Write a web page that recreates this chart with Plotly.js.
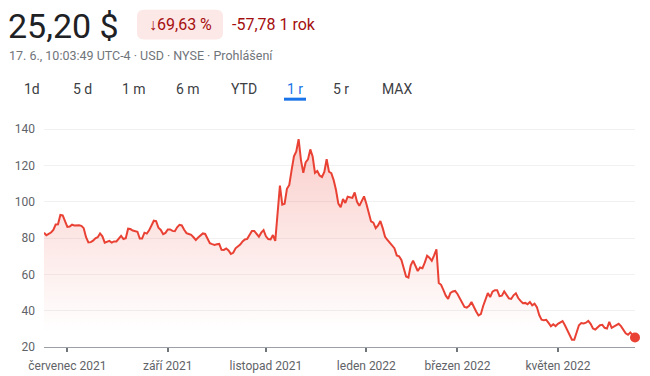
<!DOCTYPE html>
<html><head><meta charset="utf-8">
<script src="https://cdn.plot.ly/plotly-3.0.1.min.js"></script>
<style>html,body{margin:0;padding:0;background:#fff}#chart{width:650px;height:376px}</style>
</head><body><div id="chart"></div>
<script>
// Closing prices (USD), one per trading day, 17 Jun 2021 .. 17 Jun 2022
const prices = [
83,81.6,82.4,83.1,84.5,87.5,87.6,92.8,92.5,89,
86.2,86.4,87.4,87,87.2,87.1,86.8,85.5,80.5,77.6,
77.8,78.6,79.9,80.5,82.6,81,77.5,78,78.5,77.5,
78.2,78.2,80,81.3,79.5,80,85.2,85,84.2,83.8,
83.5,79.8,79.8,83,82.5,84.3,86.8,89.6,89.4,85.7,
84.5,82.2,82.9,84.8,84.8,84,83.8,86,87.3,87,
84.6,82.8,82.3,81.8,80.5,79,80.3,81.7,82.6,82.3,
79.8,77.2,76.7,76.3,76.6,76.8,73.6,73.5,74.3,73.2,
71.3,71.9,74.4,75.3,76.5,78.2,79.3,79.6,81.5,84,
84,82.2,80.8,83,84.4,81,79.5,79.3,81.7,78.5,
92,109,98.5,99,107.2,109.3,117.5,125.1,127.8,134.6,
123,116,121.7,123.4,128.9,125,116,117,114.5,113.7,
116.5,123.5,116.6,115.8,112,106.5,99,97,101.5,99.4,
102.8,102.5,102.2,105.2,100,97.8,100.5,103,99,94.6,
89.2,88.5,85.5,87,89.4,85.5,80.7,79.1,77.5,76.5,
74.5,70.5,70,68,63.8,58.9,58.3,65,67.6,65,
61.9,63.8,63.4,66.5,70.3,69.2,67.5,70.5,73.8,55.3,
54.3,51.3,48.3,46.5,49.8,50.6,50.9,49.2,46.7,43.9,
42.1,41.7,42.7,44.8,41.7,39.6,37.4,38.1,42.6,46.8,
49.7,47.5,50.5,51.3,51.3,48,48.3,50.6,48.5,46.8,
46.5,48.5,49.6,47,45.4,44.1,44.3,43.6,44.8,43,
43.9,42,37.6,35.1,34.7,35,33.3,31.4,32.5,31.5,
32.8,33.8,34.3,32,29.2,26.5,24,24,27.5,32,
33.2,33,33.4,34.4,32.8,30.2,29.6,30.8,32,32.2,
30.6,30.2,33.8,30.6,31.4,32.2,32.8,31.5,29.4,27.5,
26.7,28,26.4,25.2
];
const firstDay = '2021-06-17';
const lastDay = '2022-06-17';
const holidays = ['2021-07-05','2021-09-06','2021-11-25','2021-12-24','2022-01-17','2022-02-21','2022-04-15','2022-05-30'];
const tickDates = ['2021-07-01','2021-09-01','2021-11-01','2022-01-03','2022-03-01','2022-05-02'];
const tickLabels = ['červenec 2021','září 2021','listopad 2021','leden 2022','březen 2022','květen 2022'];
const yTicks = [20,40,60,80,100,120,140];
const rangeButtons = ['1d','5 d','1 m','6 m','YTD','1 r','5 r','MAX'];
const activeButton = '1 r';

// trading-day calendar (category axis)
function iso(d){return d.toISOString().slice(0,10);}
const dates = [];
for (let d = new Date(firstDay+'T00:00:00Z'); iso(d) <= lastDay; d.setUTCDate(d.getUTCDate()+1)) {
  const wd = d.getUTCDay();
  if (wd === 0 || wd === 6) continue;
  if (holidays.includes(iso(d))) continue;
  dates.push(iso(d));
}
const n = Math.min(dates.length, prices.length);
const xs = dates.slice(0, n), ys = prices.slice(0, n);

const RED = '#e94235';
const L = 44, R = 635, T = 120, B = 346.7;
const W = 650, H = 376;
const px = x => (x - L) / (R - L);
const py = y => (B - y) / (B - T);

const traces = [
  {
    type: 'scatter', mode: 'lines', x: xs, y: ys,
    line: {color: RED, width: 2, shape: 'linear'},
    fill: 'tozeroy',
    fillgradient: {type: 'vertical', start: 28, stop: 140,
      colorscale: [[0, 'rgba(233,66,53,0)'], [1, 'rgba(233,66,53,0.27)']]},
    hoverinfo: 'skip'
  },
  {
    type: 'scatter', mode: 'markers', x: [xs[n-1]], y: [ys[n-1]],
    marker: {color: RED, size: 10}, cliponaxis: false, hoverinfo: 'skip'
  }
];

const F = 'Roboto, Arial, sans-serif';
const ann = [];
ann.push({text: '25,20 $', x: px(6), y: py(26), xanchor: 'left', yanchor: 'middle',
  font: {family: F, size: 34, color: '#202124'}});
ann.push({text: '↓69,63 %', x: px(180.5), y: py(25), xanchor: 'center', yanchor: 'middle',
  font: {family: F, size: 16, color: '#a50e0e'}});
ann.push({text: '-57,78 1 rok', x: px(230), y: py(25), xanchor: 'left', yanchor: 'middle',
  font: {family: F, size: 16, color: '#a50e0e'}});
ann.push({text: '17. 6., 10:03:49 UTC-4 · USD · NYSE · Prohlášení', x: px(7), y: py(55.5), xanchor: 'left', yanchor: 'middle',
  font: {family: F, size: 12.5, color: '#70757a'}});
const btnCenters = [32, 82, 134, 188, 243.5, 295, 341, 397];
rangeButtons.forEach((b, i) => {
  ann.push({text: b, x: px(btnCenters[i]), y: py(89.5), xanchor: 'center', yanchor: 'middle',
    font: {family: F, size: 14, color: b === activeButton ? '#1a73e8' : '#3c4043'}});
});
ann.forEach(a => { a.xref = 'paper'; a.yref = 'paper'; a.showarrow = false; });

// rounded badge
function roundRect(x0, y0, x1, y1, r) {
  const rx = r / (R - L), ry = r / (B - T);
  const a = px(x0), b = px(x1), t = py(y0), u = py(y1);
  return `M${a+rx},${t} L${b-rx},${t} Q${b},${t} ${b},${t-ry} L${b},${u+ry} Q${b},${u} ${b-rx},${u} L${a+rx},${u} Q${a},${u} ${a},${u+ry} L${a},${t-ry} Q${a},${t} ${a+rx},${t} Z`;
}
const shapes = [
  {type: 'path', xref: 'paper', yref: 'paper', path: roundRect(137, 10, 223, 39.5, 7),
   fillcolor: '#fce8e6', line: {width: 0}, layer: 'below'},
  {type: 'line', xref: 'paper', yref: 'paper', x0: px(284), x1: px(306), y0: py(99.2), y1: py(99.2),
   line: {color: '#1a73e8', width: 3}}
];

const layout = {
  width: W, height: H,
  margin: {l: L, r: W - R, t: T, b: H - B, pad: 0},
  paper_bgcolor: '#fff', plot_bgcolor: '#fff',
  showlegend: false,
  font: {family: F},
  xaxis: {
    type: 'category', range: [0, n - 1], tickmode: 'array',
    tickvals: tickDates, ticktext: tickLabels,
    showgrid: false, zeroline: false,
    showline: true, linecolor: '#9aa0a6', linewidth: 1,
    ticks: 'outside', ticklen: 4, tickwidth: 2, tickcolor: '#70757a',
    ticklabelstandoff: 4,
    tickfont: {family: F, size: 12, color: '#5f6368'}, fixedrange: true
  },
  yaxis: {
    range: [20, 20 + (B - T) / 1.812], tickmode: 'array', tickvals: yTicks,
    showgrid: true, gridcolor: '#f1f1f1', gridwidth: 1, zeroline: false,
    showline: false, ticks: '', ticklabelstandoff: 8,
    tickfont: {family: F, size: 12, color: '#5f6368'}, fixedrange: true
  },
  annotations: ann,
  shapes: shapes
};

Plotly.newPlot('chart', traces, layout, {staticPlot: true, displayModeBar: false});
</script>
</body></html>
